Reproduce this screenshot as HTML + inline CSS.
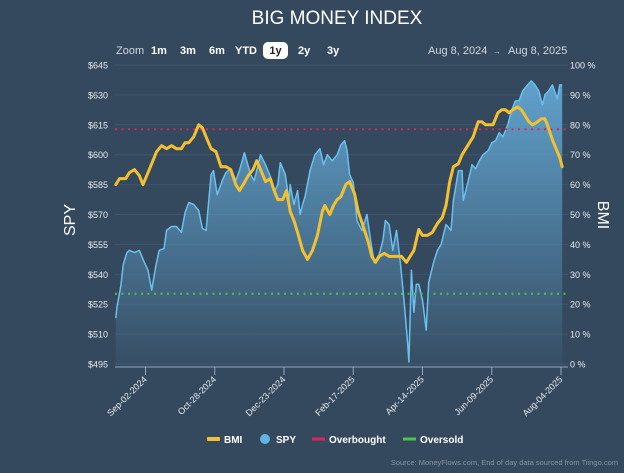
<!DOCTYPE html>
<html><head><meta charset="utf-8"><style>
html,body{margin:0;padding:0;background:#34495e;}
body{width:624px;height:468px;overflow:hidden;font-family:"Liberation Sans",sans-serif;}
</style></head><body>
<svg id="chart" width="624" height="468" xmlns="http://www.w3.org/2000/svg" font-family="Liberation Sans, sans-serif">
<defs>
<linearGradient id="spyfill" x1="0" y1="0" x2="0" y2="1">
<stop offset="0" stop-color="#62a6d2" stop-opacity="0.95"/>
<stop offset="1" stop-color="#62a6d2" stop-opacity="0.05"/>
</linearGradient>
</defs>
<rect width="624" height="468" fill="#34495e"/>
<text x="337" y="24" text-anchor="middle" fill="#ffffff" font-size="19">BIG MONEY INDEX</text>
<g font-size="11" fill="#fff">
<text x="116" y="54" fill="#d0d8e0">Zoom</text>
<text x="151" y="54" font-weight="bold">1m</text>
<text x="180" y="54" font-weight="bold">3m</text>
<text x="209" y="54" font-weight="bold">6m</text>
<text x="235" y="54" font-weight="bold">YTD</text>
<rect x="263" y="42" width="25" height="17" rx="5" fill="#ffffff"/>
<text x="275.5" y="54" font-weight="bold" fill="#222" text-anchor="middle">1y</text>
<text x="298" y="54" font-weight="bold">2y</text>
<text x="327" y="54" font-weight="bold">3y</text>
<text x="428" y="54" fill="#d0d8e0">Aug 8, 2024</text>
<text x="493" y="54" fill="#d0d8e0" font-size="8">→</text>
<text x="508" y="54" fill="#d0d8e0">Aug 8, 2025</text>
</g>
<g id="grid"></g>
<g id="plot"></g>
<g id="axes"></g>
<text transform="translate(75,220) rotate(-90)" text-anchor="middle" fill="#fff" font-size="16">SPY</text>
<text transform="translate(598,215) rotate(90)" text-anchor="middle" fill="#fff" font-size="16">BMI</text>
<g font-size="10" font-weight="bold" fill="#fff">
<g><rect x="207" y="437" width="13" height="4" rx="1" fill="#f3c02f"/><text x="224" y="443">BMI</text></g>
<g><circle cx="265" cy="439" r="5" fill="#62b4e4"/><text x="276" y="443">SPY</text></g>
<g><rect x="312" y="437.5" width="13" height="3" fill="#e0245e"/><text x="329" y="443">Overbought</text></g>
<g><rect x="403" y="437.5" width="13" height="3" fill="#4fc34a"/><text x="420" y="443">Oversold</text></g>
</g>
<text x="618" y="465" text-anchor="end" fill="#8795a3" font-size="7.5">Source: MoneyFlows.com, End of day data sourced from Tiingo.com</text>
</svg>
<script>
const spyDays=[1,2,5,7,10,12,16,20,24,27,30,33,36,40,42,46,50,54,57,60,64,68,71,74,78,80,83,87,90,94,98,101,105,110,113,118,122,126,129,132,134,138,141,142,145,148,150,152,154,158,162,166,169,172,176,180,183,186,188,190,193,196,200,204,207,210,214,217,219,222,225,228,231,234,237,238,240,242,244,246,249,252,254,258,261,264,268,272,274,278,281,282,286,289,292,295,298,302,305,308,311,314,318,321,324,327,330,334,337,340,343,346,348,351,354,358,360,362];
const spyValues=[518,524,534,545,551,552,551,552,546,542,532,543,552,553,562,564,564,561,571,576,575,572,563,562,590,592,580,587,591,593,587,592,601,590,587,600,595,589,581,585,596,590,577,585,575,582,570,575,579,592,600,603,595,600,597,600,605,607,602,590,586,567,562,570,557,546,550,557,567,565,552,562,546,527,505,496,542,521,535,535,527,512,536,546,552,555,565,562,577,592,592,577,587,595,593,597,600,602,606,607,611,609,615,622,627,627,632,635,637,635,632,625,630,632,635,628,635,635];
const bmiDays=[1,4,9,12,16,20,23,26,30,34,38,42,46,50,54,57,60,64,68,71,75,78,82,86,90,94,98,101,104,108,112,115,119,122,126,129,132,136,139,142,145,148,152,156,160,164,168,170,174,177,180,183,187,190,194,197,201,205,208,211,214,218,222,228,232,236,239,242,246,249,253,257,261,265,268,271,274,278,281,284,287,290,294,297,300,306,310,313,316,319,322,326,329,332,335,338,342,345,348,350,354,357,360,362];
const bmiValues=[60,62,62,64,65,63,60,63,67,71,73,72,73,72,72,74,74,76,80,79,75,72,71,66,66,65,60,58,60,63,65,68,64,61,62,58,55,55,58,51,48,44,38,35,38,43,51,53,50,53,55,56,60,61,57,51,46,41,36,34,36,37,36,36,36,34,36,38,45,43,43,44,47,49,53,61,66,67,70,72,74,76,81,81,80,80,84,85,85,84,85,86,85,83,81,80,81,82,82,80,75,72,69,66];
const spyTicks=[645,630,615,600,585,570,555,540,525,510,495];
const bmiTicks=[100,90,80,70,60,50,40,30,20,10,0];
const dateTickDays=[25,81,137,193,249,305,361];
const dateTickLabels=["Sep-02-2024","Oct-28-2024","Dec-23-2024","Feb-17-2025","Apr-14-2025","Jun-09-2025","Aug-04-2025"];
const overbought=[78.5];
const oversold=[23.5];

const NS="http://www.w3.org/2000/svg";
const X0=114.6,PXD=1.2366,YT=65,YB=364;
const xs=d=>X0+d*PXD;
const ySpy=v=>YT+(645-v)/150*(YB-YT);
const yBmi=v=>YT+(100-v)/100*(YB-YT);
function mk(tag,attrs,parent){const e=document.createElementNS(NS,tag);for(const k in attrs)e.setAttribute(k,attrs[k]);parent.appendChild(e);return e;}
const grid=document.getElementById('grid'),plot=document.getElementById('plot'),axes=document.getElementById('axes');
spyTicks.forEach((t,i)=>{
  const y=ySpy(t);
  const l=mk('line',{x1:115,x2:568,y1:y,y2:y,stroke:'#3f556b','stroke-width':1},grid);
  
  
  const tx=mk('text',{x:108,y:y+3.5,'text-anchor':'end',fill:'#e6ebf0','font-size':9},axes);
  tx.textContent='$'+t;
  
  
});
bmiTicks.forEach(t=>{
  const y=yBmi(t);
  const tx=mk('text',{x:570,y:y+3.5,fill:'#e6ebf0','font-size':9},axes);
  tx.textContent=t+' %';
  
  
});
let pts=spyDays.map((d,i)=>xs(d).toFixed(1)+','+ySpy(spyValues[i]).toFixed(1));
const area=mk('path',{d:'M'+xs(spyDays[0])+','+(YB+3)+' L'+pts.join(' L')+' L'+xs(spyDays[spyDays.length-1])+','+(YB+3)+'Z',fill:'url(#spyfill)'},plot);


const spyLine=mk('path',{d:'M'+pts.join(' L'),fill:'none',stroke:'#6cc0ee','stroke-width':1.5,'stroke-linejoin':'round'},plot);


const ob=mk('line',{x1:115,x2:568,y1:yBmi(overbought[0]),y2:yBmi(overbought[0]),stroke:'#e0245e','stroke-width':2,'stroke-dasharray':'2 4.5'},plot);


const os=mk('line',{x1:115,x2:568,y1:yBmi(oversold[0]),y2:yBmi(oversold[0]),stroke:'#4fc34a','stroke-width':2,'stroke-dasharray':'2 4.5'},plot);


const bpts=bmiDays.map((d,i)=>xs(d).toFixed(1)+','+yBmi(bmiValues[i]).toFixed(1));
const bmiLine=mk('path',{d:'M'+bpts.join(' L'),fill:'none',stroke:'#f3c02f','stroke-width':3,'stroke-linejoin':'round','stroke-linecap':'round'},plot);


const ax=mk('line',{x1:115,x2:568,y1:367,y2:367,stroke:'#8fa6bb','stroke-width':1},axes);


dateTickDays.forEach((d,i)=>{
  const x=xs(d);
  const tk=mk('line',{x1:x,x2:x,y1:367,y2:375,stroke:'#8fa6bb','stroke-width':1},axes);
  
  
  const tx=mk('text',{transform:'translate('+(x+2)+',380) rotate(-45)','text-anchor':'end',fill:'#e6ebf0','font-size':9},axes);
  tx.textContent=dateTickLabels[i];
  
  
});
</script>
</body></html>
